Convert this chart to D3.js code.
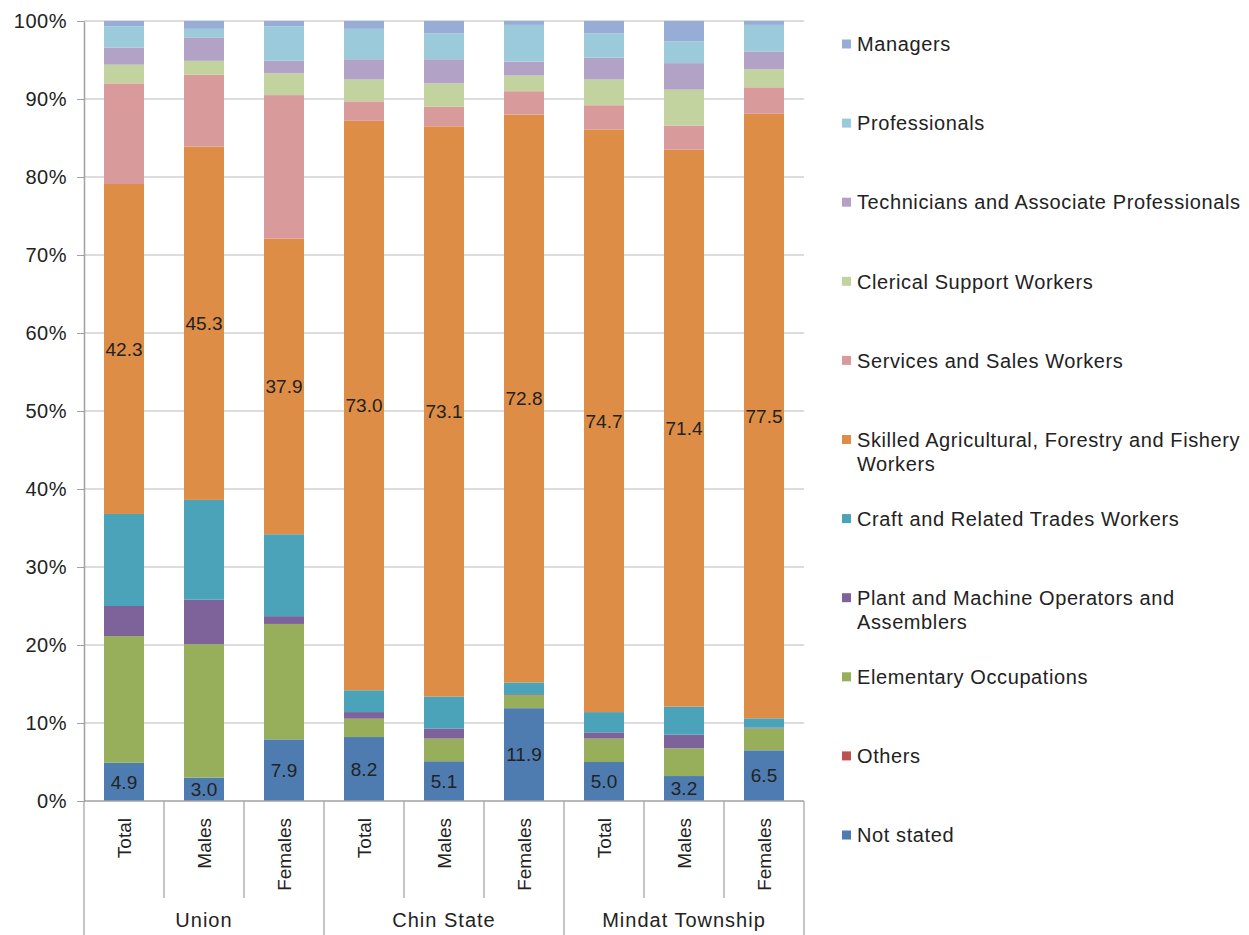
<!DOCTYPE html>
<html><head><meta charset="utf-8">
<script src="https://cdn.jsdelivr.net/npm/d3@7"></script>
<style>body{margin:0;background:#fff;} text{font-family:"Liberation Sans",Arial,sans-serif;fill:#222;}</style>
</head><body><svg id="c" width="1249" height="935"></svg>
<script>
const groups = ["Union","Chin State","Mindat Township"];
const subcats = ["Total","Males","Females"];
const seriesNames = ["Not stated","Others","Elementary Occupations","Plant and Machine Operators and Assemblers","Craft and Related Trades Workers","Skilled Agricultural, Forestry and Fishery Workers","Services and Sales Workers","Clerical Support Workers","Technicians and Associate Professionals","Professionals","Managers"];
const legendLines = [["Not stated"],["Others"],["Elementary Occupations"],["Plant and Machine Operators and","Assemblers"],["Craft and Related Trades Workers"],["Skilled Agricultural, Forestry and Fishery","Workers"],["Services and Sales Workers"],["Clerical Support Workers"],["Technicians and Associate Professionals"],["Professionals"],["Managers"]];
const colors = ["#4E7CB1","#BE5250","#97AF5A","#7D639A","#4BA3B9","#DE8D46","#D89A9A","#C3D39F","#B2A3C6","#9BCBDB","#98ADD6"];
// values per bar (Union T/M/F, Chin T/M/F, Mindat T/M/F)
const notStated    = [4.9, 3.0, 7.9, 8.2, 5.1, 11.9, 5.0, 3.2, 6.5];
const others       = [0.0, 0.0, 0.0, 0.0, 0.0, 0.0, 0.0, 0.0, 0.0];
const elementary   = [16.25, 17.1, 14.8, 2.35, 2.9, 1.7, 3.0, 3.55, 2.8];
const plant        = [3.85, 5.7, 1.0, 0.85, 1.3, 0.1, 0.8, 1.75, 0.1];
const craft        = [11.8, 12.8, 10.5, 2.8, 4.1, 1.5, 2.6, 3.6, 1.2];
const skilled      = [42.3, 45.3, 37.9, 73.0, 73.1, 72.8, 74.7, 71.4, 77.5];
const services     = [12.9, 9.2, 18.4, 2.5, 2.5, 3.0, 3.1, 3.1, 3.4];
const clerical     = [2.4, 1.8, 2.8, 2.8, 3.0, 2.0, 3.3, 4.6, 2.3];
const technicians  = [2.2, 3.0, 1.6, 2.6, 3.1, 1.8, 2.8, 3.4, 2.3];
const professionals= [2.7, 1.1, 4.4, 3.9, 3.3, 4.7, 3.1, 2.8, 3.4];
const managers     = [0.7, 1.0, 0.7, 1.0, 1.6, 0.5, 1.6, 2.6, 0.5];
const yTicks = [0,10,20,30,40,50,60,70,80,90,100];

const allSeries = [notStated,others,elementary,plant,craft,skilled,services,clerical,technicians,professionals,managers];
const bars = [];
groups.forEach((g,gi)=>subcats.forEach((s,si)=>bars.push({key:g+"|"+s,group:g,sub:s,idx:gi*3+si})));
const rows = bars.map(b=>{const r={key:b.key}; seriesNames.forEach((n,k)=>r[n]=allSeries[k][b.idx]); return r;});
const stack = d3.stack().keys(seriesNames)(rows);

const svg = d3.select("#c");
const L=84, R=804, T=21, B=801;
const x = d3.scaleBand().domain(bars.map(b=>b.key)).range([L,R]).paddingInner(0.5).paddingOuter(0.25);
const y = d3.scaleLinear().domain([0,100]).range([B,T]);

// gridlines
svg.append("g").selectAll("line").data(yTicks.filter(t=>t>0)).join("line")
  .attr("x1",L).attr("x2",R).attr("y1",d=>y(d)).attr("y2",d=>y(d))
  .attr("stroke","#D0D0D0").attr("stroke-width",1.5);

// bars
svg.append("g").selectAll("g").data(stack).join("g").attr("fill",(d,i)=>colors[i])
  .selectAll("rect").data(d=>d).join("rect")
  .attr("x",d=>x(d.data.key)).attr("width",x.bandwidth())
  .attr("y",d=>y(d[1])).attr("height",d=>Math.max(0,y(d[0])-y(d[1])));

// labels: Not stated & Skilled
[0,5].forEach(k=>{
  svg.append("g").selectAll("text").data(stack[k]).join("text")
    .attr("x",d=>x(d.data.key)+x.bandwidth()/2)
    .attr("y",d=>(y(d[0])+y(d[1]))/2).attr("dy","0.36em")
    .attr("text-anchor","middle").style("font-size","19px")
    .text(d=>(d[1]-d[0]).toFixed(1));
});

// y axis
const yAxis = d3.axisLeft(y).tickValues(yTicks).tickFormat(d=>d+"%").tickSize(7).tickSizeOuter(0);
const ya = svg.append("g").attr("transform",`translate(${L},0)`).call(yAxis);
ya.select(".domain").attr("stroke","#A0A0A0").attr("stroke-width",1.5);
ya.selectAll(".tick line").attr("stroke","#A0A0A0");
ya.selectAll(".tick text").style("font-size","20px").style("letter-spacing","0.5px").attr("fill","#222").attr("x",-17).style("font-family","Liberation Sans, Arial, sans-serif");

// x axis baseline
const xa = svg.append("g");
xa.append("line").attr("x1",L).attr("x2",R).attr("y1",B).attr("y2",B).attr("stroke","#A0A0A0").attr("stroke-width",1.5);
const step = x.step();
// separators
const sepData = d3.range(bars.length+1).map(i=>({xv:L+i*step, long:i%3===0}));
xa.selectAll("line.sep").data(sepData).join("line").attr("class","sep")
  .attr("x1",d=>d.xv).attr("x2",d=>d.xv).attr("y1",B).attr("y2",d=>d.long?935:898)
  .attr("stroke","#A0A0A0").attr("stroke-width",1.2);
// category labels
xa.selectAll("text.cat").data(bars).join("text").attr("class","cat")
  .attr("transform",d=>`translate(${x(d.key)+x.bandwidth()/2},818) rotate(-90)`)
  .attr("text-anchor","end").attr("dy","0.36em").style("font-size","19px").text(d=>d.sub);
// group labels
xa.selectAll("text.grp").data(groups).join("text").attr("class","grp")
  .attr("x",(d,i)=>L+(i*3+1.5)*step).attr("y",920).attr("dy","0.36em")
  .attr("text-anchor","middle").style("font-size","20px").style("letter-spacing","1px").text(d=>d);

// legend (top to bottom: reversed)
const leg = svg.append("g");
const order = d3.range(seriesNames.length).reverse();
order.forEach((k,i)=>{
  const yy = 44 + i*79.1;
  leg.append("rect").attr("x",842).attr("y",yy-4.5).attr("width",9).attr("height",9).attr("fill",colors[k]);
  legendLines[k].forEach((ln,j)=>{
    leg.append("text").attr("x",857).attr("y",yy+j*24).attr("dy","0.36em").style("font-size","20px").style("letter-spacing","0.6px").text(ln);
  });
});
</script></body></html>
